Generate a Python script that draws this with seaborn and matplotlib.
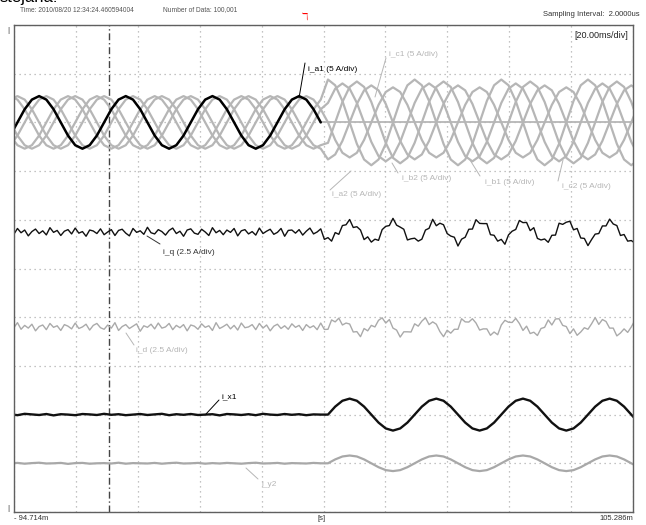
import numpy as np
import pandas as pd
import matplotlib
matplotlib.use("Agg")
import matplotlib.pyplot as plt
import seaborn as sns

sns.set_theme(style="white")
plt.rcParams['font.family'] = ['Liberation Sans', 'DejaVu Sans']

# ---------------- data ----------------
# time window of the record [ms]
T_START, T_END = -94.714, 105.286
FAULT_T = 4.4
CURSOR_T = -64.1
# sample time bases [ms]
t_coarse = -2.6 + np.arange(-40, 48) * 7.0 / 3.0
t_fine = -2.6 + np.arange(-80, 95) * 7.0 / 6.0

# phase currents [A]
i_a1 = [-1.35, 0, 1.35, 2.34, 2.7, 2.34, 1.35, 0, -1.35, -2.34, -2.7, -2.34,
        -1.35, 0, 1.35, 2.34, 2.7, 2.34, 1.35, 0, -1.35, -2.34, -2.7, -2.34,
        -1.35, 0, 1.35, 2.34, 2.7, 2.34, 1.35, 0, -1.35, -2.34, -2.7, -2.34,
        -1.35, 0, 1.35, 2.34, 2.7, 2.34, 1.35, 0,
        0, 0, 0, 0, 0, 0, 0, 0, 0, 0, 0,
        0, 0, 0, 0, 0, 0, 0, 0, 0, 0, 0,
        0, 0, 0, 0, 0, 0, 0, 0, 0, 0, 0,
        0, 0, 0, 0, 0, 0, 0, 0, 0, 0, 0]
i_b1 = [-1.35, -2.34, -2.7, -2.34, -1.35, 0, 1.35, 2.34, 2.7, 2.34, 1.35, 0,
        -1.35, -2.34, -2.7, -2.34, -1.35, 0, 1.35, 2.34, 2.7, 2.34, 1.35, 0,
        -1.35, -2.34, -2.7, -2.34, -1.35, 0, 1.35, 2.34, 2.7, 2.34, 1.35, 0,
        -1.35, -2.34, -2.7, -2.34, -1.35, 0, 1.35, 2.34,
        4.4, 3.81, 2.2, 0, -2.2, -3.81, -4.4, -3.81, -2.2, 0, 2.2, 3.81,
        4.4, 3.81, 2.2, 0, -2.2, -3.81, -4.4, -3.81, -2.2, 0, 2.2, 3.81,
        4.4, 3.81, 2.2, 0, -2.2, -3.81, -4.4, -3.81, -2.2, 0, 2.2, 3.81,
        4.4, 3.81, 2.2, 0, -2.2, -3.81, -4.4, -3.81]
i_c1 = [2.7, 2.34, 1.35, 0, -1.35, -2.34, -2.7, -2.34, -1.35, 0, 1.35, 2.34,
        2.7, 2.34, 1.35, 0, -1.35, -2.34, -2.7, -2.34, -1.35, 0, 1.35, 2.34,
        2.7, 2.34, 1.35, 0, -1.35, -2.34, -2.7, -2.34, -1.35, 0, 1.35, 2.34,
        2.7, 2.34, 1.35, 0, -1.35, -2.34, -2.7, -2.34,
        -2.1, 0, 2.1, 3.64, 4.2, 3.64, 2.1, 0, -2.1, -3.64, -4.2, -3.64,
        -2.1, 0, 2.1, 3.64, 4.2, 3.64, 2.1, 0, -2.1, -3.64, -4.2, -3.64,
        -2.1, 0, 2.1, 3.64, 4.2, 3.64, 2.1, 0, -2.1, -3.64, -4.2, -3.64,
        -2.1, 0, 2.1, 3.64, 4.2, 3.64, 2.1, 0]
i_a2 = [-2.34, -1.35, 0, 1.35, 2.34, 2.7, 2.34, 1.35, 0, -1.35, -2.34, -2.7,
        -2.34, -1.35, 0, 1.35, 2.34, 2.7, 2.34, 1.35, 0, -1.35, -2.34, -2.7,
        -2.34, -1.35, 0, 1.35, 2.34, 2.7, 2.34, 1.35, 0, -1.35, -2.34, -2.7,
        -2.34, -1.35, 0, 1.35, 2.34, 2.7, 2.34, 1.35,
        0, -1.8, -3.12, -3.6, -3.12, -1.8, 0, 1.8, 3.12, 3.6, 3.12, 1.8,
        0, -1.8, -3.12, -3.6, -3.12, -1.8, 0, 1.8, 3.12, 3.6, 3.12, 1.8,
        0, -1.8, -3.12, -3.6, -3.12, -1.8, 0, 1.8, 3.12, 3.6, 3.12, 1.8,
        0, -1.8, -3.12, -3.6, -3.12, -1.8, 0, 1.8]
i_b2 = [0, -1.35, -2.34, -2.7, -2.34, -1.35, 0, 1.35, 2.34, 2.7, 2.34, 1.35,
        0, -1.35, -2.34, -2.7, -2.34, -1.35, 0, 1.35, 2.34, 2.7, 2.34, 1.35,
        0, -1.35, -2.34, -2.7, -2.34, -1.35, 0, 1.35, 2.34, 2.7, 2.34, 1.35,
        0, -1.35, -2.34, -2.7, -2.34, -1.35, 0, 1.35,
        2, 3.46, 4, 3.46, 2, 0, -2, -3.46, -4, -3.46, -2, 0,
        2, 3.46, 4, 3.46, 2, 0, -2, -3.46, -4, -3.46, -2, 0,
        2, 3.46, 4, 3.46, 2, 0, -2, -3.46, -4, -3.46, -2, 0,
        2, 3.46, 4, 3.46, 2, 0, -2, -3.46]
i_c2 = [2.34, 2.7, 2.34, 1.35, 0, -1.35, -2.34, -2.7, -2.34, -1.35, 0, 1.35,
        2.34, 2.7, 2.34, 1.35, 0, -1.35, -2.34, -2.7, -2.34, -1.35, 0, 1.35,
        2.34, 2.7, 2.34, 1.35, 0, -1.35, -2.34, -2.7, -2.34, -1.35, 0, 1.35,
        2.34, 2.7, 2.34, 1.35, 0, -1.35, -2.34, -2.7,
        -3.8, -3.29, -1.9, 0, 1.9, 3.29, 3.8, 3.29, 1.9, 0, -1.9, -3.29,
        -3.8, -3.29, -1.9, 0, 1.9, 3.29, 3.8, 3.29, 1.9, 0, -1.9, -3.29,
        -3.8, -3.29, -1.9, 0, 1.9, 3.29, 3.8, 3.29, 1.9, 0, -1.9, -3.29,
        -3.8, -3.29, -1.9, 0, 1.9, 3.29, 3.8, 3.29]

# x / y sequence currents [A]
i_x1 = [0.02, -0.03, 0.04, 0.01, -0.02, 0.03, -0.04, 0.02, 0.0, -0.03, 0.03,
        0.01, -0.02, 0.04, -0.01, 0.02, -0.03, 0.0, 0.03, -0.02, 0.01, 0.04,
        -0.03, 0.02, -0.01, 0.03, -0.02, 0.0, 0.02, -0.04, 0.03, 0.01, -0.02,
        0.02, -0.03, 0.04, 0.0, -0.02, 0.03, -0.01, 0.02, -0.03, 0.01, 0.0,
        0, 0.41, 0.71, 0.82, 0.71, 0.41, 0, -0.41, -0.71, -0.82, -0.71, -0.41,
        0, 0.41, 0.71, 0.82, 0.71, 0.41, 0, -0.41, -0.71, -0.82, -0.71, -0.41,
        0, 0.41, 0.71, 0.82, 0.71, 0.41, 0, -0.41, -0.71, -0.82, -0.71, -0.41,
        0, 0.41, 0.71, 0.82, 0.71, 0.41, 0, -0.41]
i_y2 = [-0.01, 0.02, -0.02, 0.01, 0.03, -0.01, 0.0, 0.02, -0.03, 0.01, 0.02,
        -0.02, 0.0, 0.01, -0.01, 0.03, -0.02, 0.01, 0.0, -0.01, 0.02, -0.02,
        0.01, 0.03, -0.01, 0.0, 0.02, -0.02, 0.01, -0.01, 0.02, 0.0, -0.02,
        0.01, 0.03, -0.01, 0.0, 0.02, -0.02, 0.01, 0.0, -0.01, 0.02, 0.0,
        0, 0.2, 0.35, 0.4, 0.35, 0.2, 0, -0.2, -0.35, -0.4, -0.35, -0.2,
        0, 0.2, 0.35, 0.4, 0.35, 0.2, 0, -0.2, -0.35, -0.4, -0.35, -0.2,
        0, 0.2, 0.35, 0.4, 0.35, 0.2, 0, -0.2, -0.35, -0.4, -0.35, -0.2,
        0, 0.2, 0.35, 0.4, 0.35, 0.2, 0, -0.2]

# dq currents [A] (fine time base)
i_q = [0.05, -0.12, 0.18, -0.04, 0.10, -0.20, 0.02, 0.15, -0.08, 0.06,
       -0.15, 0.22, -0.02, 0.08, -0.18, 0.04, 0.12, -0.10, 0.20, -0.06,
       0.02, -0.22, 0.10, 0.05, -0.08, 0.16, -0.14, 0.00, 0.12, -0.18,
       0.08, 0.14, -0.06, -0.20, 0.18, -0.02, 0.06, -0.12, 0.24, -0.04,
       -0.10, 0.12, 0.02, -0.16, 0.08, 0.20, -0.08, 0.04, -0.22, 0.10,
       0.16, -0.06, -0.12, 0.14, 0.00, -0.18, 0.22, -0.04, 0.08, -0.14,
       0.10, -0.02, 0.18, -0.20, 0.06, 0.12, -0.10, 0.02, -0.16, 0.20,
       -0.08, 0.04, 0.14, -0.12, -0.02, 0.18, -0.22, 0.08, 0.10, -0.06,
       0.12, -0.16, 0.04, 0.20, -0.10, 0.00, 0.16,
       -0.38, -0.29, -0.47, -0.03, -0.12, 0.33, 0.37, 0.64, 0.23, 0.27,
       0.10, -0.39, -0.25, -0.52, -0.37, -0.43, 0.12, 0.29, 0.33, 0.70,
       0.35, 0.25, 0.14, -0.41, -0.35, -0.32, -0.47, -0.37, 0.10, 0.19,
       0.65, 0.32, 0.45, 0.37, -0.08, -0.21, -0.27, -0.72, -0.37, -0.27,
       0.14, 0.15, 0.63, 0.44, 0.43, 0.43, -0.14, -0.17, -0.47, -0.38,
       -0.63, -0.15, 0.04, 0.13, 0.59, 0.48, 0.49, 0.07, 0.22, -0.33,
       -0.41, -0.36, -0.53, -0.17, -0.16, 0.45, 0.39, 0.50, 0.55, 0.11,
       0.18, -0.31, -0.33, -0.70, -0.39, -0.11, -0.08, 0.31, 0.31, 0.66,
       0.41, 0.33, -0.18, -0.13, -0.47, -0.44, -0.57, -0.05]
i_d = [0.06, -0.04, 0.22, -0.12, 0.08, -0.06, 0.14, -0.20, 0.02, 0.10,
       -0.14, 0.18, -0.02, 0.06, -0.18, 0.12, 0.04, -0.10, 0.20, -0.08,
       0.00, 0.14, -0.16, 0.08, 0.18, -0.04, -0.12, 0.10, -0.06, 0.22,
       -0.18, 0.02, 0.12, -0.08, 0.04, 0.16, -0.22, 0.06, -0.02, 0.14,
       -0.10, 0.20, -0.06, 0.00, 0.18, -0.14, 0.08, -0.04, 0.12, -0.20,
       0.10, 0.04, -0.12, 0.16, -0.02, 0.06, -0.18, 0.22, -0.08, 0.02,
       0.14, -0.10, 0.08, -0.16, 0.20, -0.04, 0.00, 0.12, -0.14, 0.18,
       -0.06, 0.10, -0.20, 0.04, 0.14, -0.08, 0.06, -0.12, 0.16, -0.02,
       0.08, -0.18, 0.12, -0.04, 0.06, -0.14, 0.20,
       -0.13, -0.12, 0.36, 0.26, 0.45, 0.10, 0.20, 0.15, -0.26, -0.24,
       -0.50, -0.08, -0.20, 0.08, 0.00, 0.34, 0.47, 0.20, 0.38, -0.06,
       -0.16, -0.52, -0.25, -0.25, -0.26, 0.16, 0.04, 0.30, 0.47, 0.12,
       0.26, 0.14, -0.24, -0.50, -0.17, -0.32, -0.12, -0.12, 0.42, 0.26,
       0.25, 0.42, 0.20, -0.16, -0.10, -0.10, -0.43, -0.26, -0.40, 0.10,
       0.34, 0.24, 0.23, 0.44, 0.18, -0.18, 0.04, -0.34, -0.27, -0.44,
       -0.08, -0.02, 0.36, 0.10, 0.41, 0.42, 0.08, 0.02, -0.34, -0.10,
       -0.43, -0.26, -0.04, -0.12, 0.16, 0.48, 0.13, 0.38, 0.28, -0.06,
       -0.06, -0.46, -0.31, -0.10, -0.28, 0.00, 0.34, 0.12]

# ---------------- figure ----------------
W, H = 646, 525
L, R, T, B = 14, 633, 25, 512
fig = plt.figure(figsize=(W / 100, H / 100), dpi=100)
fig.patch.set_facecolor('white')
ax = fig.add_axes([L / W, 1 - B / H, (R - L) / W, (B - T) / H])
ax.set_xlim(T_START, T_END)
ax.set_ylim(0, 10)


def px(x, y):
    return (T_START + (x - L) * (T_END - T_START) / (R - L),
            (B - y) * 10.0 / (B - T))


GRAY = '#b6b6b6'
# name: (time base, values, offset [div], scale [A/div], color, lw)
traces = {
    'i_b1': (t_coarse, i_b1, 8.0, 5.0, GRAY, 1.6),
    'i_c1': (t_coarse, i_c1, 8.0, 5.0, GRAY, 1.6),
    'i_a2': (t_coarse, i_a2, 8.0, 5.0, GRAY, 1.6),
    'i_b2': (t_coarse, i_b2, 8.0, 5.0, GRAY, 1.6),
    'i_c2': (t_coarse, i_c2, 8.0, 5.0, GRAY, 1.6),
    'i_q': (t_fine, i_q, 5.75, 2.5, '#111111', 1.0),
    'i_d': (t_fine, i_d, 3.8, 2.5, '#aaaaaa', 1.0),
    'i_x1': (t_coarse, i_x1, 2.0, 2.5, '#111111', 1.7),
    'i_y2': (t_coarse, i_y2, 1.0, 2.5, '#a8a8a8', 1.6),
}

for name, (tt, vals, off, sc, col, lw) in traces.items():
    df = pd.DataFrame({'t': tt, 'v': off + np.asarray(vals, float) / sc})
    sns.lineplot(data=df, x='t', y='v', ax=ax, color=col, lw=lw,
                 estimator=None, sort=False)

# i_a1: black before the open-phase fault, grey flat line after it
df_a1 = pd.DataFrame({'t': t_coarse, 'v': 8.0 + np.asarray(i_a1, float) / 5.0})
sns.lineplot(data=df_a1[df_a1.t >= FAULT_T], x='t', y='v', ax=ax,
             color=GRAY, lw=1.3, estimator=None, sort=False)
sns.lineplot(data=df_a1[df_a1.t <= FAULT_T], x='t', y='v', ax=ax,
             color='#000000', lw=1.8, estimator=None, sort=False)

# grid / frame
ax.set_xticks(np.linspace(T_START, T_END, 11))
ax.set_yticks(np.arange(0, 11))
ax.grid(True, ls=(0, (1, 3)), color='#b0b0b0', lw=0.9)
ax.set_axisbelow(True)
ax.tick_params(length=0, labelbottom=False, labelleft=False)
ax.set_xlabel('')
ax.set_ylabel('')
for sp in ax.spines.values():
    sp.set_color('#606060')
    sp.set_linewidth(1.0)
ax.axvline(CURSOR_T, color='#444444', lw=1.0, ls=(0, (5, 2, 1, 2)), zorder=1)

# annotations with leader lines (pixel positions)
labels = [
    ('i_a1 (5 A/div)', '#000000', (308, 70), (305, 63), (299, 98)),
    ('i_c1 (5 A/div)', GRAY, (389, 55), (386, 58), (375, 97)),
    ('i_a2 (5 A/div)', GRAY, (332, 194), (351, 171), (330, 190)),
    ('i_b2 (5 A/div)', GRAY, (402, 178), (392, 163), (398, 173)),
    ('i_b1 (5 A/div)', GRAY, (485, 183), (470, 160), (480, 176)),
    ('i_c2 (5 A/div)', GRAY, (562, 186), (563, 160), (558, 181)),
    ('i_q (2.5 A/div)', '#333333', (163, 252), (147, 236), (160, 244)),
    ('i_d (2.5 A/div)', GRAY, (136, 350), (126, 333), (134, 345)),
    ('i_x1', '#000000', (222, 397), (206, 414), (219, 400)),
    ('i_y2', GRAY, (261, 484), (246, 468), (258, 479)),
]
for txt, col, (tx, ty), (ax0, ay0), (ax1, ay1) in labels:
    ax.text(*px(tx, ty), txt, color=col, fontsize=6, ha='left', va='center')
    p0, p1 = px(ax0, ay0), px(ax1, ay1)
    ax.plot([p0[0], p1[0]], [p0[1], p1[1]], color=col, lw=0.7)

ax.text(*px(628, 35), '[20.00ms/div]', fontsize=6.5, color='#222222',
        ha='right', va='center')


def ftext(x, y, s, **kw):
    fig.text(x / W, 1 - y / H, s, **kw)


ftext(0, 2, 'stejana:', fontsize=12, color='black', ha='left', va='baseline')
ftext(20, 10, 'Time: 2010/08/20 12:34:24.460594004', fontsize=4.8,
      color='#555555', va='center')
ftext(163, 10, 'Number of Data: 100,001', fontsize=4.8, color='#555555',
      va='center')
ftext(640, 15, 'Sampling Interval:  2.0000us', fontsize=5.5, color='#333333',
      ha='right', va='center')
ftext(305, 17, 'ℸ', fontsize=7, color='red', ha='center', va='center')
ftext(8, 31, '|', fontsize=6, color='#333333', ha='center', va='center')
ftext(8, 508, '|', fontsize=6, color='#333333', ha='center', va='center')
ftext(14, 519, '- 94.714m', fontsize=5.5, color='#333333', ha='left',
      va='center')
ftext(322, 519, '[s]', fontsize=5.5, color='#333333', ha='center',
      va='center')
ftext(633, 519, '105.286m', fontsize=5.5, color='#333333', ha='right',
      va='center')

fig.savefig('out.png', dpi=100, facecolor='white')
